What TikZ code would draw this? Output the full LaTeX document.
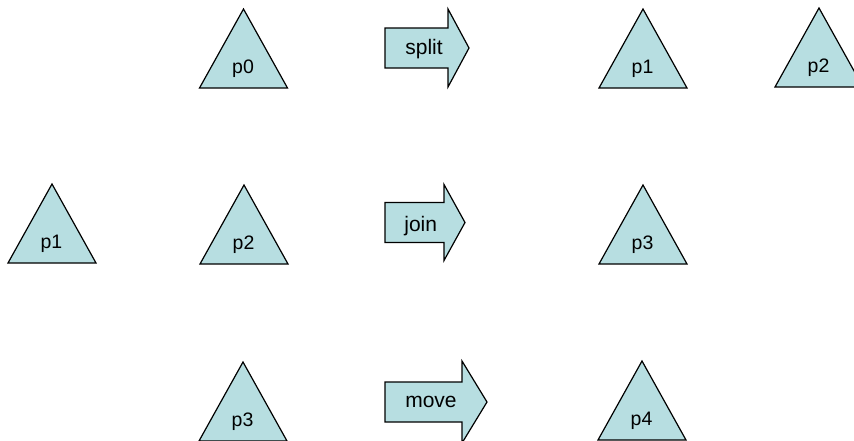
\documentclass[tikz,border=0pt]{standalone}
\usepackage{fontspec}
\setmainfont{Liberation Sans}
\definecolor{tealfill}{RGB}{183,222,225}
\tikzset{
  shapeline/.style={draw=black, line width=1.2pt, fill=tealfill, line join=miter},
  trilabel/.style={font=\fontsize{19.5}{19.5}\selectfont, anchor=base, inner sep=0pt},
  arrowlabel/.style={font=\fontsize{21}{21}\selectfont, anchor=base, inner sep=0pt}
}
\begin{document}
\begin{tikzpicture}[x=1pt,y=-1pt]
\useasboundingbox (0,0) rectangle (854,440);
% triangles: centre x / top y / name / label
\foreach \cx/\ty/\nm/\lb in {243.5/9/tA/p0, 643/9/tB/p1, 819/8/tC/p2,
                              52/184/tD/p1, 244/185/tE/p2, 643/185/tF/p3,
                              243/362/tG/p3, 642/361/tH/p4}{
  \draw[shapeline] (\cx,\ty) -- (\cx+44,\ty+79) -- (\cx-44,\ty+79) -- cycle;
  \node[trilabel] (\nm) at (\cx-0.5,\ty+64) {\lb};
}
% block arrows: left / centre y / head x / head half-height / tip x / name / label / label x / baseline y
\foreach \lx/\cy/\hx/\hh/\tx/\nm/\lb/\labx/\by in {385/48/448/39/469/aSplit/split/424/54,
                                              385/222.5/444/38/465/aJoin/join/420.7/231,
                                              385/402/462/41/487/aMove/move/431/407}{
  \draw[shapeline] (\lx,\cy-20) -- (\hx,\cy-20) -- (\hx,\cy-\hh) -- (\tx,\cy)
    -- (\hx,\cy+\hh) -- (\hx,\cy+20) -- (\lx,\cy+20) -- cycle;
  \node[arrowlabel] (\nm) at (\labx,\by) {\lb};
}
\end{tikzpicture}
\end{document}
